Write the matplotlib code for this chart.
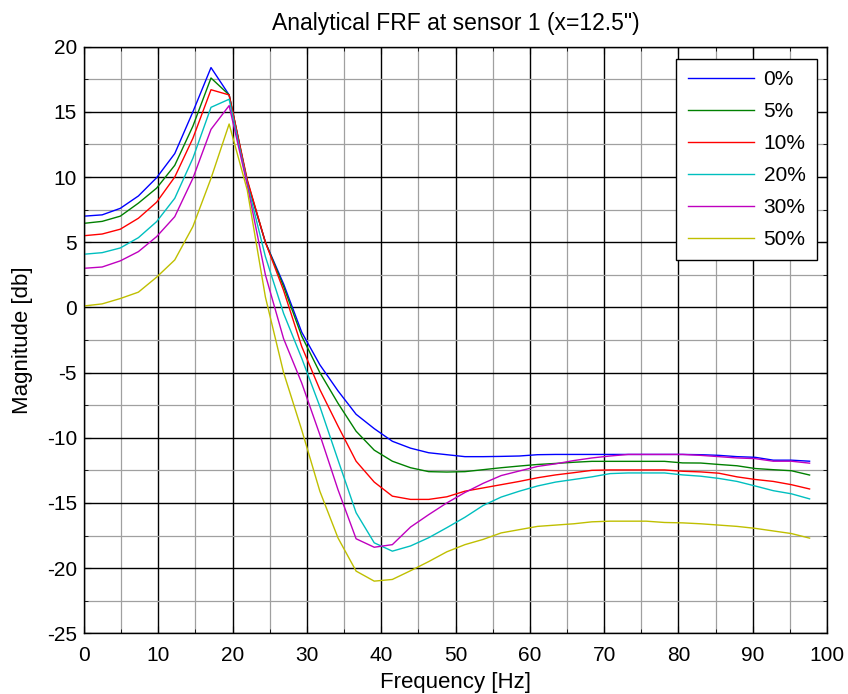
import matplotlib
matplotlib.use("Agg")
import matplotlib.pyplot as plt
from matplotlib.ticker import MultipleLocator

plt.rcParams['font.family'] = ['Liberation Sans', 'DejaVu Sans']
plt.rcParams['axes.unicode_minus'] = False

# frequency bins [Hz]
freq = [0.00, 2.44, 4.88, 7.32, 9.77, 12.21, 14.65, 17.09, 19.53, 21.97,
        24.41, 26.86, 29.30, 31.74, 34.18, 36.62, 39.06, 41.50, 43.95, 46.39,
        48.83, 51.27, 53.71, 56.15, 58.59, 61.04, 63.48, 65.92, 68.36, 70.80,
        73.24, 75.68, 78.13, 80.57, 83.01, 85.45, 87.89, 90.33, 92.77, 95.21,
        97.66]

# magnitude [db] for each damage level
mag_0 = [7.0, 7.1, 7.6, 8.55, 9.95, 11.8, 15.0, 18.4, 16.3, 9.6,
         5.0, 1.8, -1.9, -4.4, -6.4, -8.2, -9.3, -10.27, -10.8, -11.15,
         -11.3, -11.45, -11.45, -11.43, -11.4, -11.3, -11.28, -11.28, -11.28, -11.28,
         -11.28, -11.28, -11.28, -11.28, -11.3, -11.35, -11.45, -11.5, -11.72, -11.72,
         -11.8]
mag_5 = [6.45, 6.6, 7.0, 8.0, 9.15, 10.9, 13.9, 17.6, 16.3, 9.7,
         5.0, 1.6, -2.2, -5.0, -7.35, -9.5, -10.95, -11.8, -12.3, -12.6,
         -12.63, -12.6, -12.45, -12.3, -12.17, -12.05, -11.97, -11.88, -11.81, -11.81,
         -11.81, -11.81, -11.81, -11.93, -11.94, -12.05, -12.15, -12.36, -12.45, -12.53,
         -12.86]
mag_10 = [5.5, 5.63, 6.0, 6.84, 8.07, 10.0, 12.97, 16.7, 16.3, 9.8,
          5.0, 1.3, -3.0, -6.3, -9.1, -11.8, -13.4, -14.48, -14.73, -14.73,
          -14.53, -14.1, -13.85, -13.6, -13.35, -13.07, -12.85, -12.68, -12.5, -12.47,
          -12.47, -12.47, -12.47, -12.57, -12.62, -12.72, -13.0, -13.2, -13.35, -13.6,
          -13.93]
mag_20 = [4.08, 4.2, 4.56, 5.35, 6.58, 8.37, 11.44, 15.35, 15.97, 9.5,
          3.9, -0.46, -3.9, -7.6, -11.7, -15.75, -18.06, -18.7, -18.3, -17.67,
          -16.9, -16.1, -15.2, -14.55, -14.1, -13.7, -13.4, -13.2, -13.0, -12.75,
          -12.7, -12.7, -12.7, -12.85, -12.95, -13.12, -13.35, -13.7, -14.06, -14.3,
          -14.69]
mag_30 = [3.0, 3.1, 3.57, 4.28, 5.43, 6.96, 9.9, 13.66, 15.48, 9.4,
          2.5, -2.4, -5.8, -9.77, -13.98, -17.75, -18.4, -18.2, -16.85, -15.9,
          -15.0, -14.2, -13.5, -12.9, -12.55, -12.2, -12.0, -11.75, -11.55, -11.4,
          -11.28, -11.28, -11.28, -11.28, -11.35, -11.45, -11.55, -11.6, -11.8, -11.8,
          -11.95]
mag_50 = [0.11, 0.27, 0.68, 1.17, 2.32, 3.64, 6.2, 9.9, 14.07, 9.0,
          0.8, -5.0, -9.4, -14.1, -17.68, -20.23, -21.0, -20.87, -20.2, -19.5,
          -18.75, -18.2, -17.8, -17.3, -17.05, -16.8, -16.7, -16.6, -16.45, -16.4,
          -16.4, -16.4, -16.5, -16.53, -16.6, -16.7, -16.8, -16.95, -17.15, -17.35,
          -17.7]

labels = ["0%", "5%", "10%", "20%", "30%", "50%"]
# matlab style colours b, g, r, c, m, y
colors = ["#0000ff", "#008000", "#ff0000", "#00bfbf", "#bf00bf", "#bfbf00"]

fig = plt.figure(figsize=(8.48, 6.94), dpi=100)
ax = fig.add_axes([0.0991, 0.0875, 0.8761, 0.8452])

for mag, lab, col in zip([mag_0, mag_5, mag_10, mag_20, mag_30, mag_50], labels, colors):
    ax.plot(freq, mag, color=col, linewidth=1.0, label=lab)

ax.set_xlim(0, 100)
ax.set_ylim(-25, 20)
ax.xaxis.set_major_locator(MultipleLocator(10))
ax.xaxis.set_minor_locator(MultipleLocator(5))
ax.yaxis.set_major_locator(MultipleLocator(5))
ax.yaxis.set_minor_locator(MultipleLocator(2.5))

ax.grid(which="major", color="black", linewidth=1.0)
ax.grid(which="minor", color="#a0a0a0", linewidth=0.9)
ax.set_axisbelow(True)

ax.tick_params(which="both", direction="in", top=True, right=True, labelsize=15)
ax.tick_params(axis="x", which="major", pad=9)
ax.tick_params(axis="y", which="major", pad=5)
ax.tick_params(which="major", length=5)
ax.tick_params(which="minor", length=3)
for sp in ax.spines.values():
    sp.set_linewidth(1.0)
    sp.set_color("black")

ax.set_xlabel("Frequency [Hz]", fontsize=16, labelpad=5.5)
ax.set_ylabel("Magnitude [db]", fontsize=16, labelpad=10)
ax.set_title('Analytical FRF at sensor 1 (x=12.5")', fontsize=16.5, pad=12)

leg = ax.legend(loc="upper right", bbox_to_anchor=(817 / 848, 1 - 59 / 694),
                bbox_transform=fig.transFigure, borderaxespad=0, fontsize=15,
                handlelength=3.2, handletextpad=0.45, labelspacing=0.62,
                borderpad=0.55, fancybox=False, framealpha=1, edgecolor="black")
leg.get_frame().set_linewidth(1.0)

fig.savefig("out.png", dpi=100)
